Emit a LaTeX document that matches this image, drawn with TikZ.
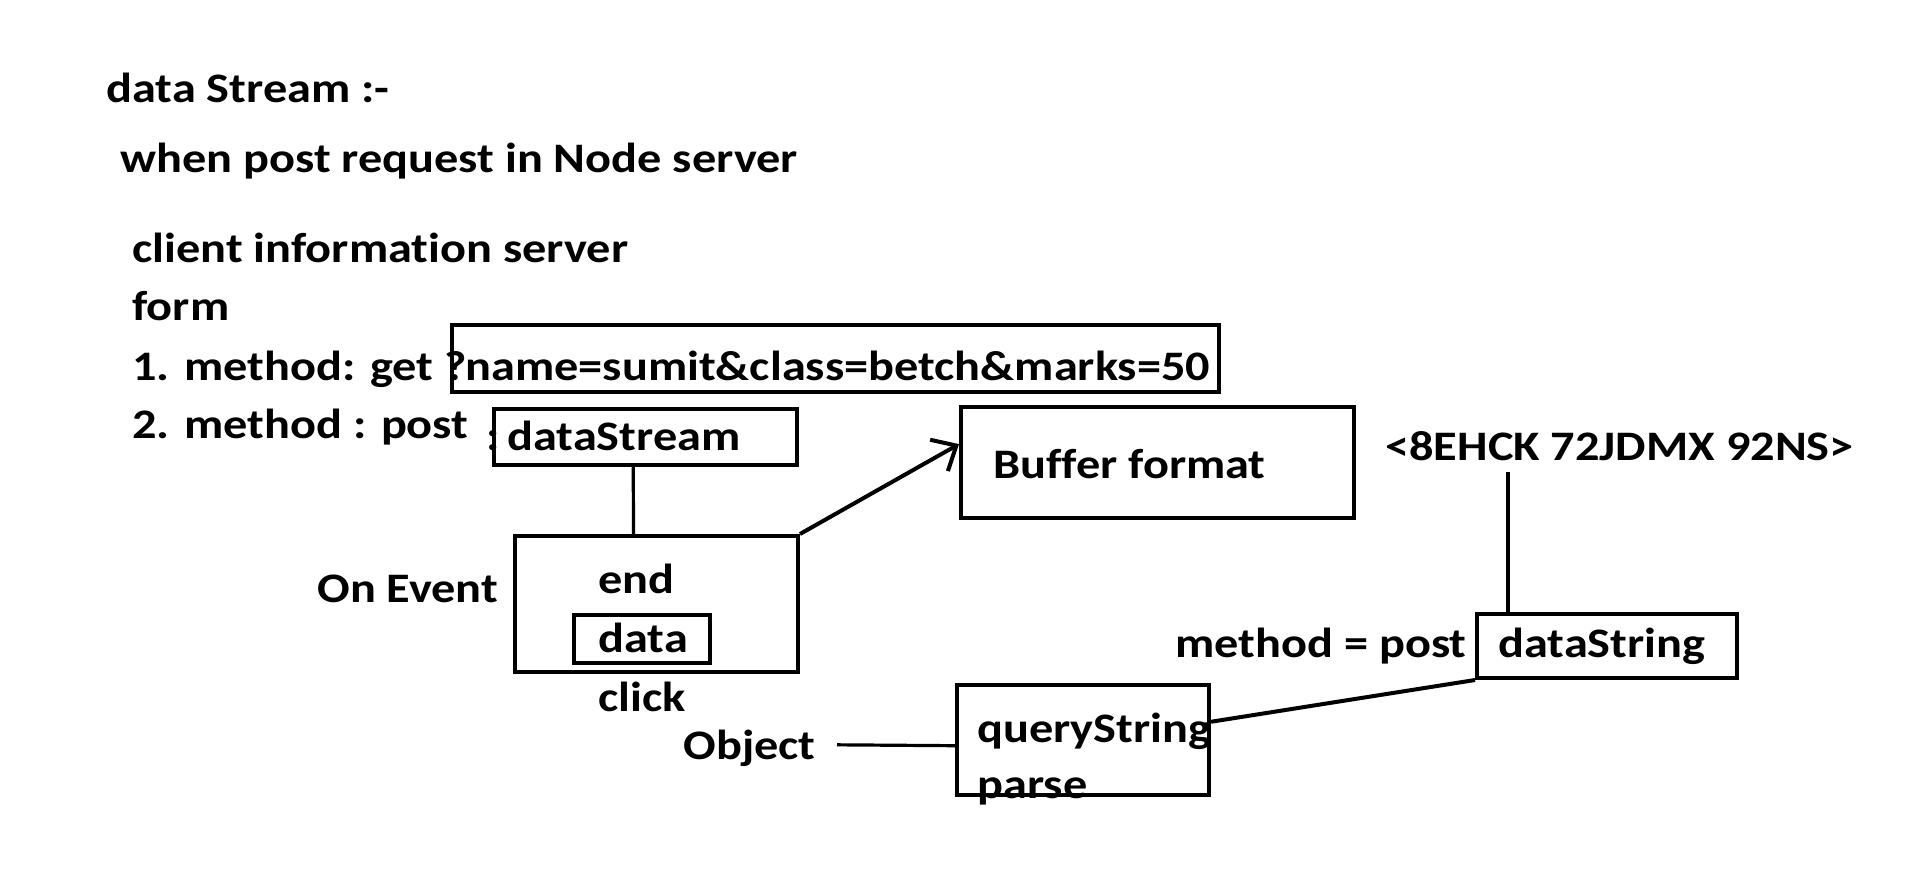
\documentclass[tikz,border=0pt]{standalone}
\usepackage{fontspec}
\setmainfont[FakeStretch=1.15,Ligatures=NoCommon]{Carlito}
\usetikzlibrary{calc,fit,arrows.meta}

\tikzset{
  txt/.style={anchor=base west, inner sep=0pt, font=\bfseries\fontsize{21}{25}\selectfont},
  frame/.style={draw, line width=2pt, inner sep=0pt},
  wire/.style={line width=1.6pt},
}

\begin{document}
\begin{tikzpicture}[x=0.5pt,y=-0.5pt]
\useasboundingbox (0,0) rectangle (1914,888);

\coordinate (A) at (452,325);
\coordinate (B) at (1219,392);

\coordinate (C) at (494,409);
\coordinate (D) at (797,465);

\coordinate (E) at (515,536);
\coordinate (F) at (798,672);

\coordinate (G) at (574,615);
\coordinate (H) at (710,663);

\coordinate (I) at (961,407);
\coordinate (J) at (1354,518);

\coordinate (K) at (1477,614);
\coordinate (L) at (1737,678);

\coordinate (M) at (957,685);
\coordinate (N) at (1209,795);

\coordinate (codeFoot) at (1508,472);

\node[frame,fit=(A)(B)] (nameBox) {};
\node[frame,fit=(C)(D)] (dsBox) {};
\node[frame,fit=(E)(F)] (evBox) {};
\node[frame,fit=(G)(H)] (dataBox) {};
\node[frame,fit=(I)(J)] (bufBox) {};
\node[frame,fit=(K)(L)] (dsStrBox) {};
\node[frame,fit=(M)(N)] (qsBox) {};

\node[txt] (title) at (106,103) {data Stream :-};
\node[txt] (whenTxt) at (120,172) {when post request in Node server};
\node[txt] (clientTxt) at (132,262) {client information server};
\node[txt] (formTxt) at (132,320) {form};
\node[txt] (getTxt) at (132,380) {1. method: get ?};
\node[txt] (queryTxt) at (465,380) {name=sumit\&class=betch\&marks=50};
\node[txt] (postTxt) at (132,438) {2. method : post};
\node[txt] (colonTxt) at (486,450) {:};
\node[txt] (dsTxt) at (507,450) {dataStream};
\node[txt] (onEventTxt) at (317,602) {On Event};
\node[txt] (endTxt) at (598,593) {end};
\node[txt] (dataTxt) at (598,652) {data};
\node[txt] (clickTxt) at (598,711) {click};
\node[txt] (bufTxt) at (993,478) {Buffer format};
\node[txt] (codeTxt) at (1385,460) {<8EHCK 72JDMX 92NS>};
\node[txt] (methodTxt) at (1175,657) {method = post};
\node[txt] (dsStrTxt) at (1498,657) {dataString};
\node[txt] (qsTxt) at (977,742) {queryString};
\node[txt] (parseTxt) at (977,798) {parse};
\node[txt] (objTxt) at (683,759) {Object};

\draw[wire] ($(dsBox.south west)!0.46!(dsBox.south east)$) -- ($(evBox.north west)!0.42!(evBox.north east)$);
\draw[wire,line width=2pt,-{Straight Barb[length=10pt,width=18pt]}] (evBox.north east) -- ($(bufBox.north west)!0.34!(bufBox.south west)$);
\draw[wire] (codeFoot) -- (codeFoot |- dsStrBox.north) ++(0,-12);
\draw[wire,line width=2pt] (dsStrBox.south west) -- ($(qsBox.north east)!0.34!(qsBox.south east)$);
\draw[wire] ($(objTxt.east)+(21,-3)$) -- ($(qsBox.north west)!0.55!(qsBox.south west)$);

\end{tikzpicture}
\end{document}
